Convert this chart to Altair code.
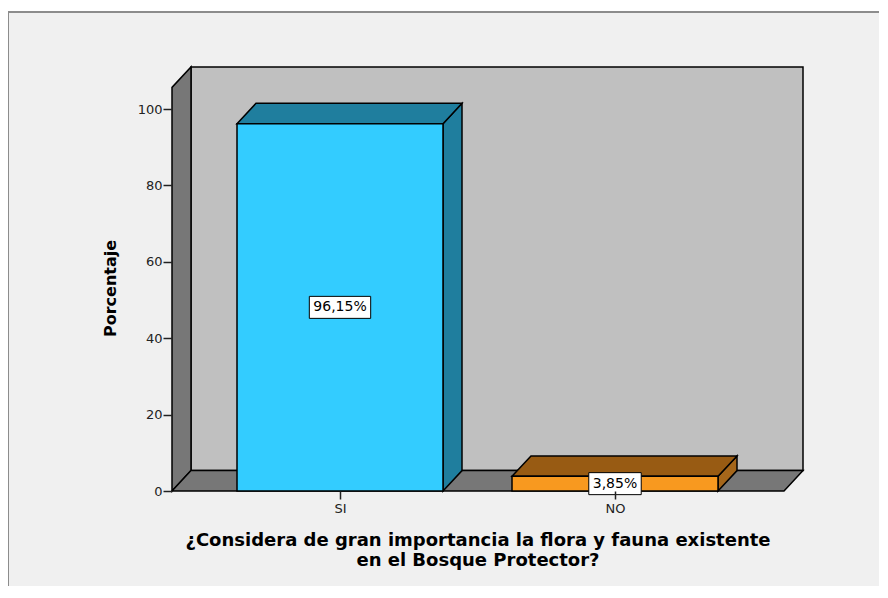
import altair as alt
import pandas as pd

# ---------------- data ----------------
categorias = ["SI", "NO"]
porcentajes = [96.15, 3.85]
etiquetas = ["96,15%", "3,85%"]

titulo_x = ["¿Considera de gran importancia la flora y fauna existente",
            "en el Bosque Protector?"]
titulo_y = "Porcentaje"
ticks_y = [0, 20, 40, 60, 80, 100]

# ---------------- style / layout ----------------
FRONT = ["#33ccff", "#f8991f"]
TOPC = ["#1f7e9e", "#985b13"]
SIDEC = ["#1f7e9e", "#a5661a"]
WALL_BACK = "#c0c0c0"
WALL_DARK = "#777777"
PANEL = "#f0f0f0"
FONT = "DejaVu Sans"

PLOT_W, PLOT_H = 631, 424
YMAX = 111.0
DX = 19            # depth offset, x units (px)
DY = 5.34          # depth offset, y units
WALL_TOP = YMAX - DY
FLOOR_R = PLOT_W - DX
X0, STEP, BAR_W = 168, 275, 206

xs = alt.Scale(domain=[0, PLOT_W], nice=False, zero=False)
ys = alt.Scale(domain=[0, YMAX], nice=False, zero=False)

centers = [X0 + i * STEP for i in range(len(categorias))]

# structural polygons
back = pd.DataFrame({"x": [DX], "x2": [PLOT_W], "y": [DY], "y2": [YMAX]})
left = pd.DataFrame({"shape": ["l", "l"], "x": [0, DX], "y": [0, DY], "y2": [WALL_TOP, YMAX]})
floor = pd.DataFrame({"shape": ["f"] * 4,
                      "x": [0, DX, FLOOR_R, FLOOR_R + DX],
                      "y": [0, 0, 0, DY],
                      "y2": [0, DY, DY, DY]})

tops, sides, fronts, boxes = [], [], [], []


def text_w(s, size):
    w = 0.0
    for ch in s:
        if ch.isdigit():
            w += 0.636
        elif ch == ",":
            w += 0.318
        elif ch == "%":
            w += 0.95
        else:
            w += 0.6
    return w * size


K = PLOT_H / YMAX
for i, (c, h, lab) in enumerate(zip(categorias, porcentajes, etiquetas)):
    cx = centers[i]
    x0, x1 = cx - BAR_W / 2, cx + BAR_W / 2
    for xx, a, b in [(x0, h, h), (x0 + DX, h, h + DY), (x1, h, h + DY), (x1 + DX, h + DY, h + DY)]:
        tops.append({"cat": c, "x": xx, "y": a, "y2": b, "fill": TOPC[i]})
    for xx, a, b in [(x1, 0, h), (x1 + DX, DY, h + DY)]:
        sides.append({"cat": c, "x": xx, "y": a, "y2": b, "fill": SIDEC[i]})
    fronts.append({"cat": c, "x": x0, "x2": x1, "y": 0, "y2": h, "fill": FRONT[i]})
    w = text_w(lab, 14) + 8
    boxes.append({"cat": c, "x": cx - w / 2, "x2": cx + w / 2,
                  "y": h / 2 - 11 / K, "y2": h / 2 + 11 / K, "yc": h / 2, "cx": cx, "lab": lab})

tops = pd.DataFrame(tops)
sides = pd.DataFrame(sides)
fronts = pd.DataFrame(fronts)
boxes = pd.DataFrame(boxes)

label_expr = " : ".join(
    [f"datum.value == {cx} ? '{c}'" for cx, c in zip(centers, categorias)]) + " : ''"

STROKE = dict(stroke="#000000", strokeWidth=1.5)

X_AXIS = alt.Axis(
    values=centers, labelExpr=label_expr, tickSize=8, tickWidth=1.5, tickColor="#222222",
    domain=False, grid=False, labelPadding=3, labelFont=FONT, labelFontSize=13,
    labelColor="#222222", labelAngle=0, labelFlush=False, zindex=1,
    title=titulo_x, titleFont=FONT, titleFontSize=18, titleFontWeight="bold",
    titleColor="#000000", titleLineHeight=20, titleX=305.5, titleY=54,
    titleAlign="center", titleBaseline="alphabetic")
Y_AXIS = alt.Axis(
    values=ticks_y, tickSize=9, tickWidth=1.5, tickColor="#222222",
    domain=False, grid=False, labelPadding=1, labelFont=FONT, labelFontSize=13,
    labelColor="#222222", zindex=1, title=titulo_y, titleFont=FONT, titleFontSize=16,
    titleFontWeight="bold", titleColor="#000000", titleAngle=270,
    titleX=-57, titleY=221, titleAlign="center", titleBaseline="alphabetic")


def X(f):
    return alt.X(f"{f}:Q", scale=xs, axis=X_AXIS)


def Y(f, stack=False):
    if stack:
        return alt.Y(f"{f}:Q", scale=ys, axis=Y_AXIS, stack=None)
    return alt.Y(f"{f}:Q", scale=ys, axis=Y_AXIS)


panel = alt.Chart(pd.DataFrame({"a": [0]})).mark_rect(
    fill=PANEL, stroke="#8c8c8c", strokeWidth=2).encode(
    x=alt.value(-164), y=alt.value(-55), x2=alt.value(900), y2=alt.value(700))

back_l = alt.Chart(back).mark_rect(fill=WALL_BACK, **STROKE).encode(
    x=X("x"), x2="x2:Q", y=Y("y"), y2="y2:Q")


def area_layer(df, fill=None, detail="shape"):
    enc = dict(x=X("x"), y=Y("y", stack=True), y2="y2:Q", detail=f"{detail}:N")
    if fill is None:
        enc["fill"] = alt.Fill("fill:N", scale=None)
        return alt.Chart(df).mark_area(**STROKE).encode(**enc)
    return alt.Chart(df).mark_area(fill=fill, **STROKE).encode(**enc)


left_l = area_layer(left, WALL_DARK)
floor_l = area_layer(floor, WALL_DARK)
side_l = area_layer(sides, detail="cat")
top_l = area_layer(tops, detail="cat")

front_l = alt.Chart(fronts).mark_rect(**STROKE).encode(
    x=X("x"), x2="x2:Q", y=Y("y"), y2="y2:Q",
    fill=alt.Fill("fill:N", scale=None))

box_l = alt.Chart(boxes).mark_rect(fill="#ffffff", stroke="#000000", strokeWidth=1).encode(
    x=X("x"), x2="x2:Q", y=Y("y"), y2="y2:Q")

text_l = alt.Chart(boxes).mark_text(
    font=FONT, fontSize=14, color="#000000", align="center", baseline="middle").encode(
    x=X("cx"), y=Y("yc"), text="lab:N")

chart = alt.layer(
    panel, back_l, left_l, floor_l, side_l, top_l, front_l, box_l, text_l
).properties(
    width=PLOT_W, height=PLOT_H,
    autosize=alt.AutoSizeParams(type="none"),
    padding={"left": 164, "top": 59, "right": 76, "bottom": 95},
    background="#ffffff"
).configure_view(stroke=None)

chart.save("out.html", embed_options={"renderer": "svg", "actions": False})
